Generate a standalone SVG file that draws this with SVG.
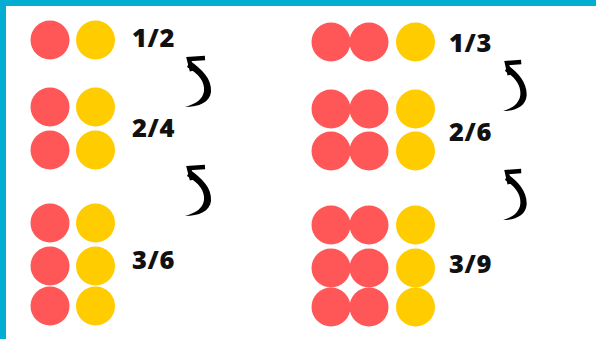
<svg xmlns="http://www.w3.org/2000/svg" width="596" height="339" viewBox="0 0 596 339">
<defs>
<style>
.r{fill:#FF5757}
.y{fill:#FFCC00}
.t{font-family:"Open Sans","Liberation Sans",sans-serif;font-weight:800;font-size:25.5px;fill:#111;letter-spacing:0.6px}
.ah{fill:none;stroke:#000;stroke-width:4.5;stroke-linejoin:miter;stroke-linecap:butt}
.as{fill:#000}
</style>
<g id="arrowShape">
<path class="ah" d="M18,-1 L2,0 L5,12"/>
<path class="as" d="M3,2 C15,10 25,20 24,33 C23,43 12,48 -2,48 C9,45 16,40 17,32 C18,23 12,15 0,8 Z"/>
</g>
</defs>
<rect x="0" y="0" width="596" height="339" fill="#fff"/>
<rect x="0" y="0" width="596" height="6" fill="#03AED2"/>
<rect x="0" y="0" width="6" height="339" fill="#03AED2"/>

<g id="half">
<circle class="r" cx="50" cy="40" r="19.5"/>
<circle class="y" cx="95.5" cy="40" r="19.5"/>
<text class="t" x="132" y="47">1/2</text>
</g>
<g id="two-fourths">
<circle class="r" cx="50" cy="107" r="19.5"/>
<circle class="y" cx="95.5" cy="107" r="19.5"/>
<circle class="r" cx="50" cy="150" r="19.5"/>
<circle class="y" cx="95.5" cy="150" r="19.5"/>
<text class="t" x="132" y="137">2/4</text>
</g>
<g id="three-sixths">
<circle class="r" cx="50" cy="223" r="19.5"/>
<circle class="y" cx="95.5" cy="223" r="19.5"/>
<circle class="r" cx="50" cy="266" r="19.5"/>
<circle class="y" cx="95.5" cy="266" r="19.5"/>
<circle class="r" cx="50" cy="306" r="19.5"/>
<circle class="y" cx="95.5" cy="306" r="19.5"/>
<text class="t" x="132" y="269">3/6</text>
</g>

<g id="third">
<circle class="r" cx="331" cy="42" r="19.5"/>
<circle class="r" cx="369" cy="42" r="19.5"/>
<circle class="y" cx="415.5" cy="42" r="19.5"/>
<text class="t" x="449" y="52">1/3</text>
</g>
<g id="two-sixths">
<circle class="r" cx="331" cy="109" r="19.5"/>
<circle class="r" cx="369" cy="109" r="19.5"/>
<circle class="y" cx="415.5" cy="109" r="19.5"/>
<circle class="r" cx="331" cy="151" r="19.5"/>
<circle class="r" cx="369" cy="151" r="19.5"/>
<circle class="y" cx="415.5" cy="151" r="19.5"/>
<text class="t" x="449" y="141">2/6</text>
</g>
<g id="three-ninths">
<circle class="r" cx="331" cy="225" r="19.5"/>
<circle class="r" cx="369" cy="225" r="19.5"/>
<circle class="y" cx="415.5" cy="225" r="19.5"/>
<circle class="r" cx="331" cy="268" r="19.5"/>
<circle class="r" cx="369" cy="268" r="19.5"/>
<circle class="y" cx="415.5" cy="268" r="19.5"/>
<circle class="r" cx="331" cy="307" r="19.5"/>
<circle class="r" cx="369" cy="307" r="19.5"/>
<circle class="y" cx="415.5" cy="307" r="19.5"/>
<text class="t" x="449" y="273">3/9</text>
</g>

<g id="connectors">
<use href="#arrowShape" transform="translate(187,59)"/>
<use href="#arrowShape" transform="translate(187,168)"/>
<use href="#arrowShape" transform="translate(505,63) scale(0.9,1)"/>
<use href="#arrowShape" transform="translate(505,172) scale(0.9,1)"/>
</g>
</svg>
